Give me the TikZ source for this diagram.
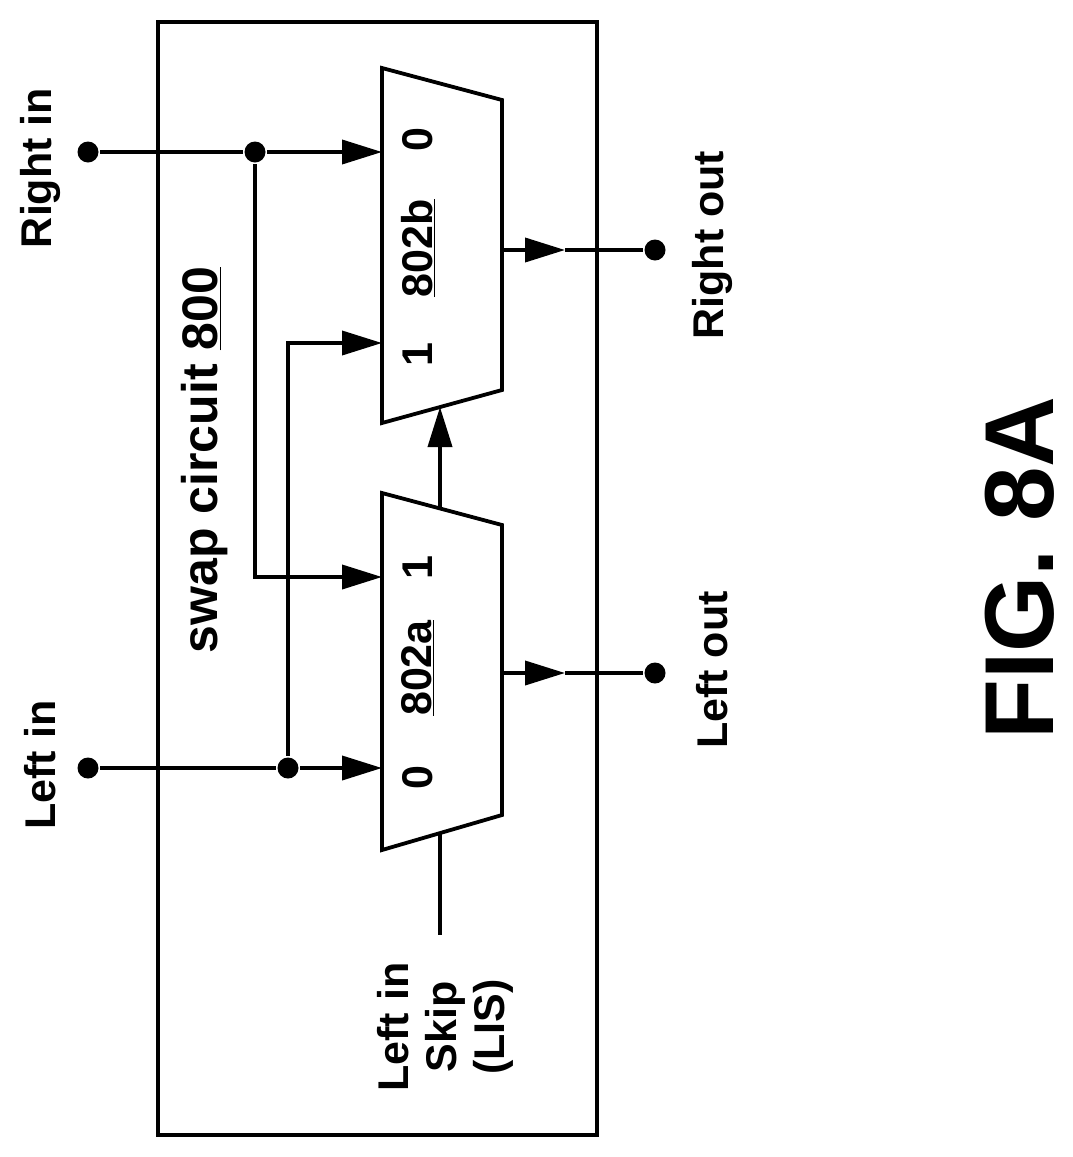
\documentclass[tikz,border=0pt]{standalone}
\usepackage{fontspec}
\setmainfont{Liberation Sans}
\usetikzlibrary{arrows.meta}
\begin{document}
\begin{tikzpicture}[x=1pt,y=-1pt,line width=3.8pt,
  arr/.style={-{Triangle[length=40pt,width=24pt]}},
  dot/.style={circle,fill=black,inner sep=0pt,minimum size=21pt},
  lbl/.style={rotate=90,font=\fontsize{43}{48}\selectfont\bfseries,inner sep=0pt},
  mux/.style={line join=miter}]
\useasboundingbox (0,0) rectangle (1072,1157);
\draw (158,22) rectangle (597,1135);
% muxes
\draw[mux] (382,68) -- (502,100) -- (502,390) -- (382,423) -- cycle;
\draw[mux] (382,493) -- (502,525) -- (502,815) -- (382,850) -- cycle;
% nodes
\node[dot] (ri) at (88,152) {};
\node[dot] (jr) at (255,152) {};
\node[dot] (li) at (88,768) {};
\node[dot] (jl) at (288,768) {};
\node[dot] (ro) at (655,250) {};
\node[dot] (lo) at (655,673) {};
\coordinate (b0) at (382,152);
\coordinate (b1) at (382,343);
\coordinate (a1) at (382,577);
\coordinate (a0) at (382,768);
\coordinate (bo) at (502,250);
\coordinate (ao) at (502,673);
\coordinate (rm) at (565,250);
\coordinate (lm) at (565,673);
\coordinate (at) at (440,510);
\coordinate (bb) at (440,407);
\coordinate (ab) at (440,834);
\coordinate (lis) at (440,935);
\draw (ri) -- (jr);
\draw[arr] (jr) -- (b0);
\draw[arr] (jr) |- (a1);
\draw (li) -- (jl);
\draw[arr] (jl) -- (a0);
\draw[arr] (jl) |- (b1);
\draw[arr] (bo) -- (rm); \draw (rm) -- (ro);
\draw[arr] (ao) -- (lm); \draw (lm) -- (lo);
\draw[arr] (at) -- (bb);
\draw (ab) -- (lis);
% labels
\node[lbl] (tri) at (40,168) {Right in};
\node[lbl] (tli) at (40,765) {Left in};
\node[lbl] (tro) at (712,245) {Right out};
\node[lbl] (tlo) at (712,670) {Left out};
\node[lbl,font=\fontsize{50}{54}\selectfont\bfseries] (tsw) at (205,460) {swap circuit \underline{800}};
\node[lbl,align=center] (tlis) at (445,1027) {Left in\\Skip\\(LIS)};
\node[lbl] (b0t) at (418,140) {0};
\node[lbl] (bnt) at (418,248) {\underline{802b}};
\node[lbl] (b1t) at (418,355) {1};
\node[lbl] (a1t) at (418,568) {1};
\node[lbl] (ant) at (418,668) {\underline{802a}};
\node[lbl] (a0t) at (418,778) {0};
\node[rotate=90,font=\fontsize{98}{100}\selectfont\bfseries,inner sep=0pt] (fig) at (1020,568) {FIG. 8A};
\end{tikzpicture}
\end{document}
